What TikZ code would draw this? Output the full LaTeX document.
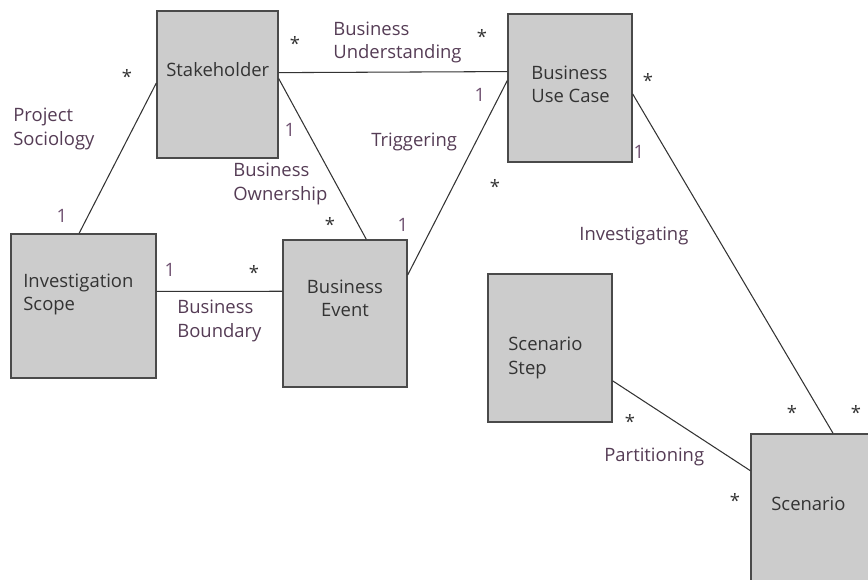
\documentclass[tikz,border=0pt]{standalone}
\usepackage{fontspec}
\setmainfont{Open Sans}
\usepackage{xcolor}
\usetikzlibrary{calc}

\definecolor{boxfill}{HTML}{CCCCCC}
\definecolor{boxline}{HTML}{4A4A4A}
\definecolor{boxtext}{HTML}{333333}
\definecolor{assoc}{HTML}{553C55}
\definecolor{mult}{HTML}{6E5070}

\tikzset{
    entity/.style={draw=boxline, fill=boxfill, line width=0.8pt, inner sep=0pt},
    entitytext/.style={text=boxtext, inner sep=0pt, font=\fontsize{10.5}{13.3}\selectfont},
    rolename/.style={text=assoc, inner sep=0pt, align=left, font=\fontsize{10.5}{13.3}\selectfont},
    onemult/.style={text=mult, inner sep=0pt, font=\fontsize{10.5}{13}\selectfont},
    manymult/.style={text=black!80, inner sep=0pt, yshift=-2pt, font=\fontsize{10.5}{13}\selectfont},
    link/.style={draw=black!80, line width=0.6pt}
}

\begin{document}
\begin{tikzpicture}[x=0.02cm, y=-0.02cm]
        \useasboundingbox (0, 0) rectangle (868, 579);
        \clip (0, 0) rectangle (868, 579);

        \node[entity, minimum width=2.42cm, minimum height=2.94cm] (stake) at (217.5, 84.5) {};
        \node[entity, minimum width=2.48cm, minimum height=2.96cm] (usecase) at (570, 88) {};
        \node[entity, minimum width=2.90cm, minimum height=2.88cm] (scope) at (83.5, 306) {};
        \node[entity, minimum width=2.48cm, minimum height=2.94cm] (event) at (345, 313.5) {};
        \node[entity, minimum width=2.48cm, minimum height=2.96cm] (step) at (550, 348) {};
        \node[entity, minimum width=2.48cm, minimum height=2.96cm] (scenario) at (813, 508) {};

        \node[entitytext, anchor=base west] (stakeT) at (166, 76) {Stakeholder};
        \node[entitytext, anchor=west, align=left] (usecaseT) at (531, 84) {Business\\Use Case};
        \node[entitytext, anchor=west, align=left] (scopeT) at (23, 294.5) {Investigation\\Scope};
        \node[entitytext, align=center] (eventT) at (345, 298.5) {Business\\Event};
        \node[entitytext, anchor=west, align=left] (stepT) at (508, 358) {Scenario\\Step};
        \node[entitytext, anchor=base west] (scenarioT) at (771, 510) {Scenario};

        \draw[link] ($(stake.north west)!0.49!(stake.south west)$) to ($(scope.north west)!0.47!(scope.north east)$)
            ($(stake.north east)!0.42!(stake.south east)$) to ($(usecase.north west)!0.39!(usecase.south west)$)
            ($(stake.north east)!0.46!(stake.south east)$) to ($(event.north west)!0.67!(event.north east)$)
            ($(usecase.north west)!0.45!(usecase.south west)$) to ($(event.north east)!0.24!(event.south east)$)
            ($(scope.north east)!0.40!(scope.south east)$) to ($(event.north west)!0.35!(event.south west)$)
            ($(usecase.north east)!0.54!(usecase.south east)$) to ($(scenario.north west)!0.66!(scenario.north east)$)
            ($(step.north east)!0.72!(step.south east)$) to ($(scenario.north west)!0.25!(scenario.south west)$);

        \node[rolename, anchor=west] (sociology) at (13, 129) {Project\\Sociology};
        \node[rolename, anchor=west] (understanding) at (333, 42.5) {Business\\Understanding};
        \node[rolename, anchor=west] (ownership) at (233, 184) {Business\\Ownership};
        \node[rolename, anchor=base west] (triggering) at (371, 146) {Triggering};
        \node[rolename, anchor=west] (boundary) at (177, 321) {Business\\Boundary};
        \node[rolename, anchor=base west] (investigating) at (579, 240) {Investigating};
        \node[rolename, anchor=base west] (partitioning) at (604, 461) {Partitioning};

        \node[manymult] (m1) at (127, 73) {*};
        \node[onemult] (o1) at (62, 216) {1};
        \node[manymult] (m2) at (295, 40) {*};
        \node[manymult] (m3) at (482, 33) {*};
        \node[onemult] (o2) at (290, 130) {1};
        \node[manymult] (m4) at (330, 221) {*};
        \node[onemult] (o3) at (480, 95) {1};
        \node[manymult] (m5) at (495, 183) {*};
        \node[onemult] (o4) at (403, 225) {1};
        \node[onemult] (o5) at (170, 270) {1};
        \node[manymult] (m6) at (254, 269) {*};
        \node[manymult] (m7) at (648, 77) {*};
        \node[onemult] (o6) at (639, 152) {1};
        \node[manymult] (m8) at (792, 409) {*};
        \node[manymult] (m9) at (856, 409) {*};
        \node[manymult] (m10) at (630, 418) {*};
        \node[manymult] (m11) at (735, 497) {*};
    \end{tikzpicture}
\end{document}
